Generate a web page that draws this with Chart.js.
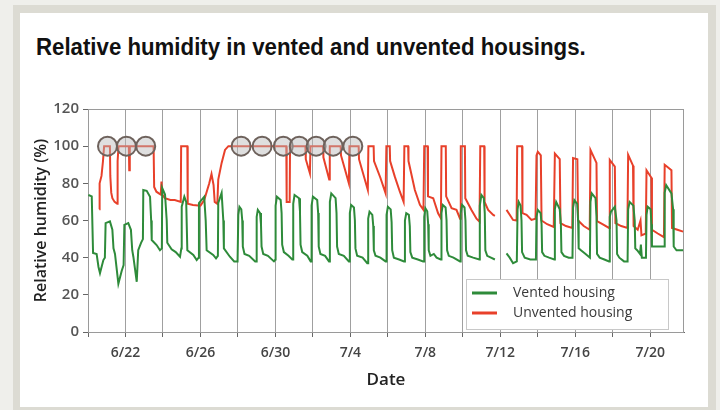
<!DOCTYPE html>
<html>
<head>
<meta charset="utf-8">
<script src="https://cdn.jsdelivr.net/npm/chart.js@4.4.0/dist/chart.umd.min.js"></script>
<style>
  html, body { margin: 0; padding: 0; }
  body { width: 720px; height: 410px; background: #efefeb; position: relative; overflow: hidden; }
  #frame { position: absolute; left: 13px; top: 5px; width: 703px; height: 405px; background: #dcdbd3; }
  #panel { position: absolute; left: 20px; top: 13px; width: 688px; height: 394px; background: #fff; }
  #title { position: absolute; left: 36px; top: 36px; font: bold 23px/22px "Liberation Sans", Arial, sans-serif; color: #111; white-space: nowrap; transform-origin: 0 0; }
  #myChart { position: absolute; left: 0; top: 0; }
</style>
</head>
<body>
<div id="frame"></div>
<div id="panel"></div>
<div id="title">Relative humidity in vented and unvented housings.</div>
<canvas id="myChart" width="720" height="410"></canvas>
<script>
// x = days since 6/20 (00:00), y = relative humidity (%)
var gridDays = [0, 2, 4, 6, 8, 10, 12, 14, 16, 18, 20, 22, 24, 26, 28, 30];
var tickDays = [2, 6, 10, 14, 18, 22, 26, 30];
var tickLabels = ['6/22', '6/26', '6/30', '7/4', '7/8', '7/12', '7/16', '7/20'];
var yTicks = [0, 20, 40, 60, 80, 100, 120];

// saturated periods marked with circles
var circleDays = [1.04, 2.05, 3.08, 8.17, 9.29, 10.42, 11.27, 12.17, 13.08, 14.13];
var circleRH = [100, 100, 100, 100, 100, 100, 100, 100, 100, 100];

var ventedRH = [
  [0.02,73.7],[0.20,73],[0.27,42.5],[0.46,42],[0.56,35],[0.64,31.7],[0.82,38.7],[0.90,40],
  [0.94,58.6],[1.17,59.5],[1.30,55],[1.36,45],[1.44,42],[1.62,26],[1.80,33],[1.90,36],
  [1.94,57.6],[2.15,58.6],[2.29,55],[2.36,44],[2.42,40.5],[2.60,27],[2.68,44],[2.83,48],[2.93,50],
  [2.95,76.4],[3.13,76],[3.31,72.8],[3.37,60],[3.40,49.5],[3.66,46.8],[3.84,44],[3.94,45],
  [3.96,77.5],[4.11,74],[4.20,60],[4.23,48],[4.46,44.5],[4.68,43],[4.91,40.5],[4.98,45],
  [5.00,67.4],[5.14,72.8],[5.24,70],[5.30,44],[5.62,41.5],[5.80,38.7],[5.90,40],
  [5.92,69.4],[6.20,72.8],[6.28,60],[6.33,44],[6.68,41.5],[6.83,39.6],[6.93,41],
  [6.95,69.4],[7.13,74.8],[7.22,60],[7.25,45],[7.57,40.5],[7.80,38],[7.98,38],
  [8.02,63],[8.08,67.4],[8.18,66],[8.23,60],[8.26,46],[8.35,42],[8.60,41],[8.92,38],
  [8.98,38],[9.00,62],[9.06,65.7],[9.18,64],[9.23,58],[9.26,46],[9.35,42],[9.60,41],[9.92,38],
  [10.00,39],[10.01,68],[10.08,72.8],[10.28,71],[10.33,64],[10.36,47],[10.45,43],[10.70,41],[10.90,39],
  [10.94,39],[10.95,69],[11.02,73.7],[11.26,72],[11.31,65],[11.34,47],[11.43,43],[11.70,41],[11.88,38],
  [11.92,38],[11.93,68],[12.00,72.8],[12.23,71],[12.28,64],[12.31,46],[12.40,42],[12.65,41],[12.86,38],
  [12.90,38],[12.91,70],[12.98,74.6],[13.21,72],[13.26,64],[13.29,46],[13.38,42],[13.65,41],[13.92,38],
  [13.96,38],[13.97,64],[14.04,68.4],[14.19,67],[14.24,60],[14.27,45],[14.36,41],[14.65,40],[14.90,37],
  [14.94,37],[14.95,61],[15.02,64.7],[15.17,63],[15.22,57],[15.25,44],[15.34,41],[15.60,40],[15.88,38],
  [15.92,38],[15.93,63],[16.00,67.4],[16.15,66],[16.20,59],[16.23,44],[16.32,40],[16.60,39],[16.86,38],
  [16.90,38],[16.91,60],[16.98,63.9],[17.12,63],[17.17,57],[17.20,43],[17.30,40],[17.60,39],[17.88,38],
  [17.93,38],[17.94,62],[18.00,66.6],[18.10,65],[18.15,58],[18.18,44],[18.27,41],[18.45,42],[18.60,40],[18.82,39],
  [18.85,39],[18.86,64],[18.93,68.4],[19.08,67],[19.13,60],[19.16,44],[19.25,41],[19.50,40],[19.85,38],
  [19.88,38],[19.89,64],[19.96,68.4],[20.09,67],[20.14,60],[20.17,44],[20.26,41],[20.55,40],[20.88,39],
  [20.90,39],[20.91,68],[20.99,73.7],[21.12,72],[21.17,64],[21.20,44],[21.30,41],[21.50,40],[21.71,39],
  [22.00,null],
  [22.33,42.3],[22.50,40],[22.68,37],[22.88,38],[22.92,66],[22.98,70],[23.08,68],[23.13,60],[23.16,43],
  [23.30,40],[23.60,39],[23.90,39],
  [23.93,62],[24.00,65.7],[24.15,64],[24.20,58],[24.23,43],[24.35,41],[24.60,40],[24.88,39],
  [24.91,66],[24.98,70],[25.17,66],[25.23,58],[25.26,43],[25.40,41],[25.65,40],[25.85,40],
  [25.88,67],[25.95,71],[26.10,69],[26.15,60],[26.18,45],[26.30,44],[26.55,42],[26.78,40],
  [26.81,70],[26.88,74.6],[27.08,72],[27.13,62],[27.16,42],[27.30,40],[27.55,39],[27.80,38],
  [27.84,62],[27.90,64.7],[28.11,67.4],[28.20,60],[28.23,42],[28.35,40],[28.60,38],[28.79,38],
  [28.82,66],[28.90,70],[29.10,68],[29.17,60],[29.20,45],[29.30,44],[29.45,42],[29.50,47],[29.55,40],[29.77,40],
  [29.80,63],[29.86,67.4],[30.02,66],[30.06,58],[30.09,46],[30.40,46],[30.74,46],
  [30.77,75],[30.85,79],[31.13,74.6],[31.22,66],[31.25,46],[31.40,44],[31.75,44]
];

var unventedRH = [
  [0.60,66],[0.62,80],[0.72,84],[0.80,92],[0.86,100],[1.17,100],[1.19,84],[1.24,75],[1.30,72],
  [1.42,70],[1.56,69],[1.58,92],[1.63,100],[2.18,100],[2.20,87],[2.23,100],[3.50,100],
  [3.53,78],[3.65,75.5],[3.80,74.5],[3.88,74],[3.92,81],[3.96,74],[4.10,72],[4.40,71],[4.63,71],
  [4.95,70],[4.97,100],[5.30,100],[5.32,69],[5.60,68.4],[6.00,68],[6.20,71],[6.35,76],[6.47,80],
  [6.59,85],[6.70,79],[6.76,70],[6.90,69],[6.95,82],[7.13,91],[7.31,98],[7.49,100],
  [10.58,100],[10.60,70],[10.76,70],[10.78,100],
  [11.60,100],[11.62,93],[11.84,85.4],[11.87,100],
  [12.54,100],[12.56,94],[12.87,82],[12.90,100],
  [13.48,100],[13.50,95],[13.92,80],[13.95,100],
  [14.44,100],[14.46,93],[14.93,76.4],[14.96,100],
  [15.24,100],[15.26,92],[15.60,83],[15.88,74.6],[15.92,100],
  [16.10,100],[16.12,92],[16.37,83.6],[16.64,75.5],[16.84,70],[16.88,100],
  [17.08,100],[17.10,92],[17.44,76.4],[17.71,68.4],[17.90,65.7],[17.94,100],
  [18.12,100],[18.14,73],[18.42,72],[18.68,63.9],[18.83,61.2],[18.86,100],
  [19.09,100],[19.11,73],[19.40,66.6],[19.66,65.7],[19.85,61],[19.89,100],
  [20.11,100],[20.13,72],[20.46,65.7],[20.73,61],[20.89,59.4],[20.93,100],
  [21.14,100],[21.16,70],[21.35,65.7],[21.62,63],[21.71,62.5],
  [22.00,null],
  [22.33,65.7],[22.51,63],[22.68,60.3],[22.87,60],[22.90,100],[23.16,100],[23.18,64],[23.40,63],
  [23.66,60.3],[23.88,61],[23.93,95],[24.00,97],[24.16,95],[24.20,60],[24.50,58],[24.85,56.5],
  [24.91,96],[25.17,93],[25.21,58.6],[25.50,57],[25.84,56],
  [25.88,93.6],[26.11,93],[26.15,60],[26.45,57],[26.77,55],
  [26.81,98],[27.13,91],[27.16,59.6],[27.45,58],[27.80,56],
  [27.84,92.6],[28.11,89],[28.14,58.6],[28.45,57],[28.78,56],
  [28.82,95.3],[29.08,89.5],[29.11,57],[29.33,55],[29.48,60],[29.53,52],[29.76,53],
  [29.80,87],[30.06,83],[30.09,55],[30.40,53],[30.73,51],
  [30.77,90],[31.13,87],[31.16,56],[31.45,55],[31.75,54]
];

var circles = circleDays.map(function (d, i) { return [d, circleRH[i]]; });

// squeeze the title into the condensed width of the original
var titleEl = document.getElementById('title');
titleEl.style.transform = 'scaleX(' + (550 / titleEl.offsetWidth) + ')';

// box around the plot area
var frameBox = {
  id: 'frameBox',
  beforeDatasetsDraw: function (chart) {
    var a = chart.chartArea, c = chart.ctx;
    c.save();
    c.strokeStyle = '#9a9a9a';
    c.lineWidth = 1;
    c.strokeRect(a.left + 0.5, a.top + 0.5, a.right - a.left - 1, a.bottom - a.top);
    c.restore();
  }
};

// legend box in the lower right of the plot
var boxLegend = {
  id: 'boxLegend',
  afterDatasetsDraw: function (chart) {
    var c = chart.ctx;
    var x = 466, y = 279, w = 202, h = 50;
    c.save();
    c.fillStyle = '#fff';
    c.fillRect(x, y, w, h);
    c.strokeStyle = '#c8c8c8';
    c.lineWidth = 1;
    c.strokeRect(x + 0.5, y + 0.5, w, h);
    c.font = '14px "Open Sans", sans-serif';
    c.textBaseline = 'middle';
    [0, 1].forEach(function (i) {
      var ds = chart.data.datasets[i];
      var ly = y + 14 + i * 20;
      c.strokeStyle = ds.borderColor;
      c.lineWidth = 3;
      c.beginPath();
      c.moveTo(x + 6, ly);
      c.lineTo(x + 31, ly);
      c.stroke();
      c.fillStyle = '#3a3a3a';
      c.fillText(ds.label, x + 47, ly);
    });
    c.restore();
  }
};

var ctx = document.getElementById('myChart').getContext('2d');
var chart = new Chart(ctx, {
  type: 'line',
  data: {
    datasets: [{
      label: 'Vented housing',
      data: ventedRH,
      borderColor: '#2e8b3a',
      borderWidth: 2,
      pointRadius: 0,
      tension: 0,
      spanGaps: false
    }, {
      label: 'Unvented housing',
      data: unventedRH,
      borderColor: '#e8402a',
      borderWidth: 2,
      pointRadius: 0,
      tension: 0,
      spanGaps: false
    }, {
      label: 'saturated',
      data: circles,
      showLine: false,
      pointRadius: 9.5,
      pointBackgroundColor: 'rgba(185,185,185,0.45)',
      pointBorderColor: '#6e625c',
      pointBorderWidth: 2,
      order: -1
    }]
  },
  options: {
    responsive: false,
    animation: false,
    layout: { padding: { left: 0, right: 36, top: 109, bottom: 0 } },
    plugins: {
      legend: { display: false },
      tooltip: { enabled: false }
    },
    scales: {
      x: {
        type: 'linear',
        min: 0,
        max: 31.8,
        afterFit: function (scale) { scale.height = 78; },
        afterBuildTicks: function (scale) {
          scale.ticks = gridDays.map(function (v) { return { value: v }; });
        },
        border: { color: '#666' },
        grid: { color: '#a0a0a0', tickLength: 5, tickColor: '#666' },
        ticks: {
          autoSkip: false,
          maxRotation: 0,
          padding: 8,
          color: '#444',
          font: { family: 'Open Sans', size: 14, weight: '600' },
          callback: function (v) {
            var i = tickDays.indexOf(v);
            return i >= 0 ? tickLabels[i] : '';
          }
        },
        title: {
          display: true,
          text: 'Date',
          color: '#222',
          font: { family: 'Open Sans', size: 17, weight: '600' },
          padding: { top: 0, bottom: 20 }
        }
      },
      y: {
        min: 0,
        max: 120,
        afterFit: function (scale) { scale.width = 88; },
        afterBuildTicks: function (scale) {
          scale.ticks = yTicks.map(function (v) { return { value: v }; });
        },
        border: { color: '#666' },
        grid: { drawOnChartArea: false, tickLength: 5, color: '#666' },
        ticks: {
          padding: 4,
          color: '#555',
          font: { family: 'Open Sans', size: 15, weight: '600' }
        },
        title: {
          display: true,
          text: 'Relative humidity (%)',
          color: '#222',
          font: { family: 'Open Sans', size: 16, weight: '600' },
          padding: { top: 32, bottom: 0 }
        }
      }
    }
  },
  plugins: [frameBox, boxLegend]
});
</script>
</body>
</html>
